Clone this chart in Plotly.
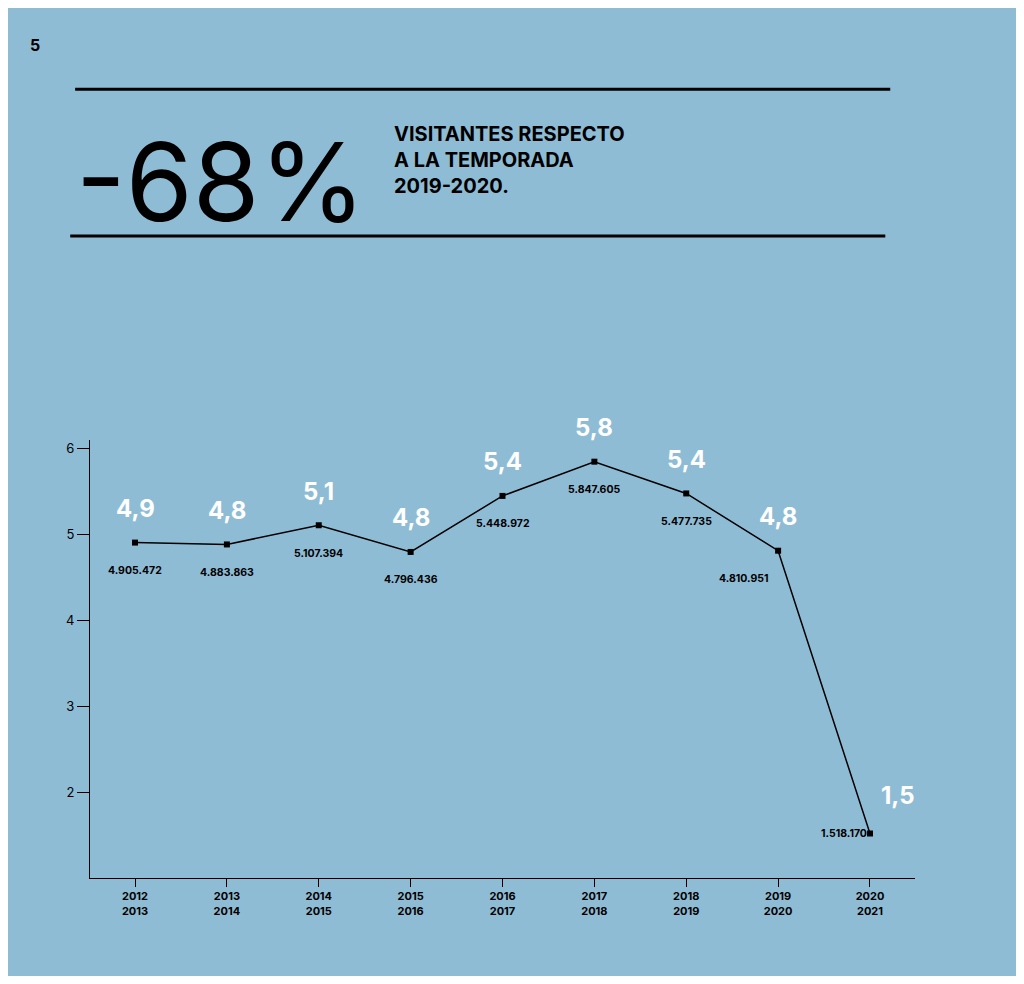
import plotly.graph_objects as go

seasons = ["2012<br>2013","2013<br>2014","2014<br>2015","2015<br>2016","2016<br>2017","2017<br>2018","2018<br>2019","2019<br>2020","2020<br>2021"]
visitors_m = [4.905472,4.883863,5.107394,4.796436,5.448972,5.847605,5.477735,4.810951,1.518170]
short_labels = ["4,9","4,8","5,1","4,8","5,4","5,8","5,4","4,8","1,5"]
full_labels = ["4.905.472","4.883.863","5.107.394","4.796.436","5.448.972","5.847.605","5.477.735","4.810.951","1.518.170"]
y_ticks = [2,3,4,5,6]

x = list(range(len(seasons)))
BG = "#8FBCD5"
FONT = "Inter, Liberation Sans, sans-serif"

fig = go.Figure(go.Scatter(x=x, y=visitors_m, mode="lines+markers",
    line=dict(color="black", width=1.5),
    marker=dict(symbol="square", size=6, color="black")))

ann = []
for i, v in enumerate(visitors_m):
    last = i == len(x) - 1
    n = len(x)
    if last:
        xs, ys = -26, 0
    elif i == n - 2:
        xs, ys = -34, -28
    else:
        xs, ys = 0, -28
    ann.append(dict(x=i, y=v, text="<b>"+full_labels[i]+"</b>", showarrow=False,
        font=dict(family=FONT, size=10.5, color="black"), xshift=xs, yshift=ys))
    ann.append(dict(x=i, y=v, text="<b>"+short_labels[i]+"</b>", showarrow=False,
        font=dict(family=FONT, size=24, color="white"),
        xshift=28 if last else 0, yshift=38 if last else 34))

ann += [
    dict(xref="paper", yref="paper", x=-0.02, y=1.59, text="-68%", showarrow=False,
         xanchor="left", yanchor="middle", font=dict(family=FONT, size=108, color="black")),
    dict(xref="paper", yref="paper", x=0.366, y=1.64, showarrow=False, xanchor="left", yanchor="middle",
         align="left", text="<b>VISITANTES RESPECTO<br>A LA TEMPORADA<br>2019-2020.</b>",
         font=dict(family=FONT, size=20, color="black")),
    dict(xref="paper", yref="paper", x=-0.075, y=1.93, text="<b>5</b>", showarrow=False,
         xanchor="left", font=dict(family=FONT, size=16, color="black")),
]

fig.update_layout(
    width=1008, height=968, paper_bgcolor=BG, plot_bgcolor=BG,
    margin=dict(l=82, r=101, t=432, b=98), showlegend=False,
    annotations=ann,
    shapes=[
        dict(type="line", xref="paper", yref="paper", x0=-0.018, x1=0.97, y0=1.801, y1=1.801, line=dict(color="black", width=3)),
        dict(type="line", xref="paper", yref="paper", x0=-0.024, x1=0.964, y0=1.466, y1=1.466, line=dict(color="black", width=3)),
    ],
    xaxis=dict(range=[-0.49, 8.49], tickvals=x, ticktext=["<b>"+s+"</b>" for s in seasons],
        showgrid=False, zeroline=False, showline=True, linecolor="black", linewidth=1,
        ticks="outside", ticklen=8, tickcolor="black",
        tickfont=dict(family=FONT, size=11, color="black")),
    yaxis=dict(range=[1, 6.1], tickvals=y_ticks, showgrid=False, zeroline=False,
        showline=True, linecolor="black", linewidth=1, ticks="outside", ticklen=12,
        tickcolor="black", tickfont=dict(family=FONT, size=13, color="black")),
)
fig.write_html("out.html")
